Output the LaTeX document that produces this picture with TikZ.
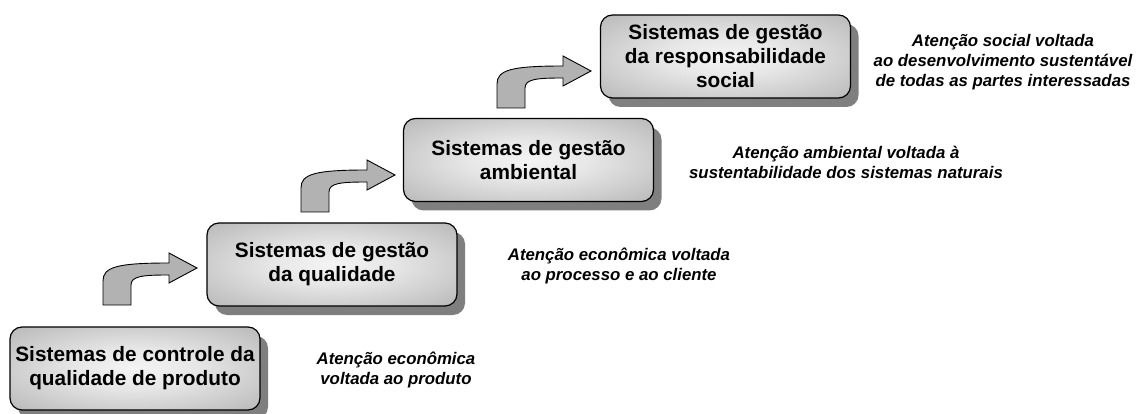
\documentclass[tikz,border=0pt]{standalone}
\usepackage{fontspec}
\setmainfont{Liberation Sans}
\usetikzlibrary{shadows}
\definecolor{shadowc}{HTML}{7F7F7F}
\definecolor{arrowc}{HTML}{B2B2B2}
\definecolor{boxin}{HTML}{F4F4F4}
\definecolor{boxout}{HTML}{9C9C9C}
\pgfdeclareradialshading{boxshade}{\pgfpoint{0bp}{0bp}}{color(0bp)=(boxin); color(12bp)=(boxin!85!boxout); color(50bp)=(boxout); color(72bp)=(boxout)}
\tikzset{
  stepbox/.style={draw=black, line width=1.2pt, rounded corners=12pt, shading=boxshade,
    minimum width=250pt, minimum height=83pt, align=center, inner sep=0pt,
    font=\bfseries\fontsize{20.8}{24}\selectfont,
    drop shadow={shadow xshift=8pt, shadow yshift=-9pt, fill=shadowc, opacity=1}},
  note/.style={align=center, inner sep=0pt, font=\bfseries\itshape\fontsize{16.8}{20}\selectfont},
  bentarrow/.style={draw=black, line width=0.9pt, fill=arrowc, line join=miter}
}
\newcommand{\bentup}[1]{%
  \draw[bentarrow, shift={#1}] (0,0) -- (0,-24) .. controls (0,-38) and (14,-42) .. (66,-42)
    -- (66,-52) -- (94,-37) -- (66,-22) -- (66,-30)
    .. controls (40,-30) and (28,-29) .. (28,-20) -- (28,0) -- cycle;}
\begin{document}
\begin{tikzpicture}[x=1pt, y=-1pt]
\useasboundingbox (0,0) rectangle (1141,414);
\node[stepbox] (b1) at (135,368.5) {Sistemas de controle da\\qualidade de produto};
\node[stepbox] (b2) at (332,264.5) {Sistemas de gestão\\da qualidade};
\node[stepbox] (b3) at (528.5,160) {Sistemas de gestão\\ambiental};
\node[stepbox] (b4) at (725.5,56.5) {Sistemas de gestão\\da responsabilidade\\social};
\bentup{(103,305)}
\bentup{(301,212)}
\bentup{(497,108)}
\node[note] (n1) at (396,370) {Atenção econômica\\voltada ao produto};
\node[note] (n2) at (619,266) {Atenção econômica voltada\\ao processo e ao cliente};
\node[note] (n3) at (846,162) {Atenção ambiental voltada à\\sustentabilidade dos sistemas naturais};
\node[note] (n4) at (1003,62) {Atenção social voltada\\ao desenvolvimento sustentável\\de todas as partes interessadas};
\end{tikzpicture}
\end{document}
